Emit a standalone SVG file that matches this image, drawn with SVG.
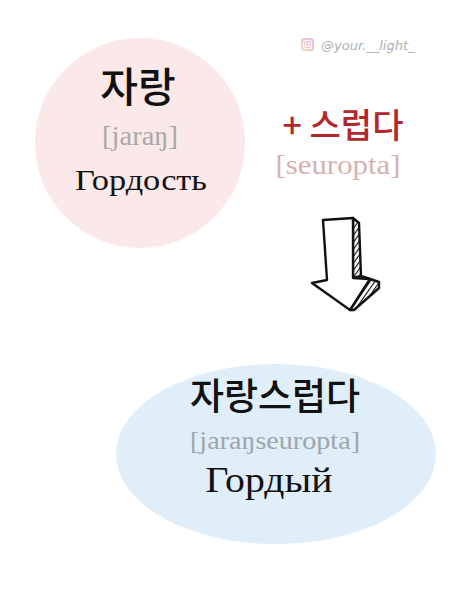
<svg xmlns="http://www.w3.org/2000/svg" width="474" height="592" viewBox="0 0 474 592">
<defs>
<linearGradient id="ig" x1="0" y1="1" x2="1" y2="0">
<stop offset="0" stop-color="#f7d9a0"/><stop offset="0.5" stop-color="#f0b5c8"/><stop offset="1" stop-color="#c9b6e8"/>
</linearGradient>
<pattern id="hatch" width="4" height="4" patternUnits="userSpaceOnUse" patternTransform="rotate(35)">
<rect width="4" height="4" fill="#fff"/><line x1="0" y1="0" x2="0" y2="4" stroke="#111" stroke-width="2.2"/>
</pattern>
</defs>
<style>
.ko{font-family:"Noto Sans CJK KR","Noto Sans",sans-serif;font-weight:500;text-anchor:middle}
.ser{font-family:"Liberation Serif","DejaVu Serif",serif;text-anchor:middle}
.arr{stroke:#111;stroke-width:2.4;stroke-linejoin:round;stroke-linecap:round}
</style>
<rect width="474" height="592" fill="#fff"/>
<g id="watermark">
<rect x="301" y="38" width="13" height="13" rx="3" fill="url(#ig)" opacity="0.8"/>
<rect x="303.5" y="40.5" width="8" height="8" rx="2" fill="none" stroke="#fff" stroke-width="1.1"/>
<circle cx="307.5" cy="44.5" r="2" fill="none" stroke="#fff" stroke-width="1.1"/>
<text x="321" y="50" font-family="'DejaVu Sans',sans-serif" font-style="italic" font-size="13" fill="#b0b0b0">@your.__light_</text>
</g>
<g id="node-jarang">
<circle cx="140" cy="143" r="105" fill="#fbe9e9"/>
<text class="ko" x="138" y="102" font-size="41" fill="#111">자랑</text>
<text class="ser" x="140" y="145" font-size="28" fill="#a9a9a9" textLength="76" lengthAdjust="spacingAndGlyphs">[jaraŋ]</text>
<text class="ser" x="141" y="190" font-size="30" fill="#111" textLength="132" lengthAdjust="spacingAndGlyphs">Гордость</text>
</g>
<g id="node-suffix">
<text class="ko" x="343" y="138" font-size="34" fill="#b3262c">+ 스럽다</text>
<text class="ser" x="338" y="174" font-size="27" fill="#d7b1b1" textLength="125" lengthAdjust="spacingAndGlyphs">[seuropta]</text>
</g>
<g id="connectors">
<path class="arr" d="M353,218 L359,223 L361,276 L370,279 L379,282 L379,288 L354,310 L350,310 L370,279 L361,276 L353,278 Z" fill="url(#hatch)"/>
<path class="arr" d="M323,220 L353,218 L353,278 L370,279 L350,310 L312,283 L327,280 Z" fill="#fff"/>
</g>
<g id="node-jarangseureopda">
<ellipse cx="276" cy="454" rx="160" ry="90" fill="#dfeef9"/>
<text class="ko" x="275" y="410" font-size="37" fill="#111">자랑스럽다</text>
<text class="ser" x="275" y="449" font-size="26" fill="#9ea6ab" textLength="170" lengthAdjust="spacingAndGlyphs">[jaraŋseuropta]</text>
<text class="ser" x="269" y="492" font-size="36" fill="#111" textLength="127" lengthAdjust="spacingAndGlyphs">Гордый</text>
</g>
</svg>
